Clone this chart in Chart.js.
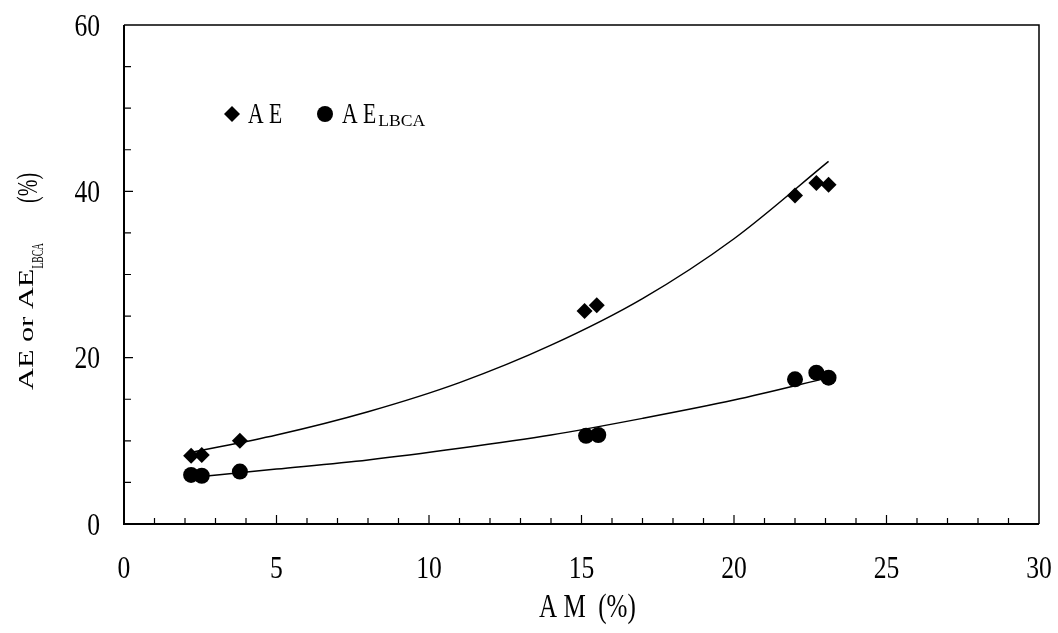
<!DOCTYPE html>
<html>
<head>
<meta charset="utf-8">
<script src="https://cdn.jsdelivr.net/npm/chart.js@4.4.1/dist/chart.umd.min.js"></script>
<style>
  html, body { margin: 0; padding: 0; background: #fff; }
  #wrap { width: 1058px; height: 633px; }
</style>
</head>
<body>
<div id="wrap"><canvas id="myChart"></canvas></div>
<script>
// values
const amAE = [2.2, 2.55, 3.8, 15.1, 15.5, 22.0, 22.7, 23.1];
const aeValues = [8.2, 8.3, 10.0, 25.6, 26.3, 39.5, 41.0, 40.8];
const amLBCA = [2.2, 2.55, 3.8, 15.15, 15.55, 22.0, 22.7, 23.1];
const aeLbcaValues = [5.9, 5.8, 6.3, 10.6, 10.7, 17.4, 18.2, 17.6];

// fitted trend curves
const trendAM = [2.2, 5, 8, 11, 14, 17, 20, 23.1];
const trendAE = [8.6, 10.7, 13.5, 17.0, 21.5, 27.1, 34.3, 43.6];
const trendLBCA = [5.6, 6.6, 7.7, 9.1, 10.7, 12.7, 14.9, 17.6];

const xTickLabels = [0, 5, 10, 15, 20, 25, 30];
const yTickLabels = [0, 20, 40, 60];

const FONT = "'Liberation Serif', 'DejaVu Serif', serif";

function pts(xs, ys) {
    return xs.map((x, i) => ({ x: x, y: ys[i] }));
}

function txt(ctx, s, x, y, size, sx, align) {
    ctx.save();
    ctx.translate(x, y);
    ctx.scale(sx, 1);
    ctx.font = size + 'px ' + FONT;
    ctx.textAlign = align || 'left';
    ctx.textBaseline = 'alphabetic';
    ctx.fillStyle = '#000';
    ctx.fillText(s, 0, 0);
    const w = ctx.measureText(s).width * sx;
    ctx.restore();
    return w;
}

const axesPlugin = {
    id: 'axesPlugin',
    afterDraw(chart) {
        const ctx = chart.ctx;
        const xs = chart.scales.x, ys = chart.scales.y;
        const a = chart.chartArea;
        ctx.save();
        ctx.strokeStyle = '#000';

        // frame
        ctx.lineWidth = 1.5;
        ctx.beginPath();
        ctx.moveTo(a.left, a.top); ctx.lineTo(a.right, a.top); ctx.lineTo(a.right, a.bottom);
        ctx.stroke();
        ctx.lineWidth = 2;
        ctx.beginPath();
        ctx.moveTo(a.left, a.top); ctx.lineTo(a.left, a.bottom); ctx.lineTo(a.right, a.bottom);
        ctx.stroke();

        // inside ticks
        ctx.lineWidth = 1.2;
        ctx.beginPath();
        for (let v = xs.min + 1; v < xs.max; v++) {
            const px = xs.getPixelForValue(v);
            const len = v % 5 === 0 ? 9 : 6;
            ctx.moveTo(px, a.bottom); ctx.lineTo(px, a.bottom - len);
        }
        for (let v = ys.min + 5; v < ys.max; v += 5) {
            const py = ys.getPixelForValue(v);
            const len = v % 20 === 0 ? 9 : 7;
            ctx.moveTo(a.left, py); ctx.lineTo(a.left + len, py);
        }
        ctx.stroke();

        // tick labels
        xTickLabels.forEach(v => {
            txt(ctx, String(v), xs.getPixelForValue(v), a.bottom + 54, 32, 0.8, 'center');
        });
        yTickLabels.forEach(v => {
            txt(ctx, String(v), a.left - 24, ys.getPixelForValue(v) + 10.5, 32, 0.8, 'right');
        });

        // x title
        txt(ctx, 'A M  (%)', 539, 617, 33, 0.76, 'left');

        // y title (rotated)
        ctx.save();
        ctx.translate(33, 390);
        ctx.rotate(-Math.PI / 2);
        let w = txt(ctx, 'AE or AE', 0, 0, 22, 1.38, 'left');
        txt(ctx, 'LBCA', w, 10, 16, 0.6, 'left');
        txt(ctx, '(%)', 187, 4, 30, 0.67, 'left');
        ctx.restore();

        // legend
        ctx.fillStyle = '#000';
        ctx.beginPath();
        ctx.moveTo(232, 106); ctx.lineTo(240, 114); ctx.lineTo(232, 122); ctx.lineTo(224, 114);
        ctx.closePath(); ctx.fill();
        txt(ctx, 'A E', 248, 123, 30, 0.72, 'left');
        ctx.beginPath();
        ctx.arc(325, 114, 8, 0, Math.PI * 2);
        ctx.fill();
        w = txt(ctx, 'A E', 342, 123, 30, 0.72, 'left');
        txt(ctx, 'LBCA', 342 + w + 2, 126, 16, 1.1, 'left');

        ctx.restore();
    }
};

const ctx = document.getElementById('myChart').getContext('2d');

const myChart = new Chart(ctx, {
    type: 'scatter',
    data: {
        datasets: [
            {
                label: 'AE',
                data: pts(amAE, aeValues),
                pointStyle: 'rectRot',
                pointRadius: 8,
                backgroundColor: '#000',
                borderColor: '#000',
                borderWidth: 0
            },
            {
                label: 'AE LBCA',
                data: pts(amLBCA, aeLbcaValues),
                pointStyle: 'circle',
                pointRadius: 8,
                backgroundColor: '#000',
                borderColor: '#000',
                borderWidth: 0
            },
            {
                label: 'AE trend',
                data: pts(trendAM, trendAE),
                showLine: true,
                pointRadius: 0,
                borderColor: '#000',
                borderWidth: 1.5,
                cubicInterpolationMode: 'monotone'
            },
            {
                label: 'AE LBCA trend',
                data: pts(trendAM, trendLBCA),
                showLine: true,
                pointRadius: 0,
                borderColor: '#000',
                borderWidth: 1.5,
                cubicInterpolationMode: 'monotone'
            }
        ]
    },
    options: {
        responsive: true,
        maintainAspectRatio: false,
        animation: false,
        layout: { padding: { left: 124, right: 19, top: 25, bottom: 109 } },
        plugins: {
            legend: { display: false },
            tooltip: { enabled: false }
        },
        scales: {
            x: { type: 'linear', min: 0, max: 30, display: false },
            y: { type: 'linear', min: 0, max: 60, display: false }
        }
    },
    plugins: [axesPlugin]
});
</script>
</body>
</html>
